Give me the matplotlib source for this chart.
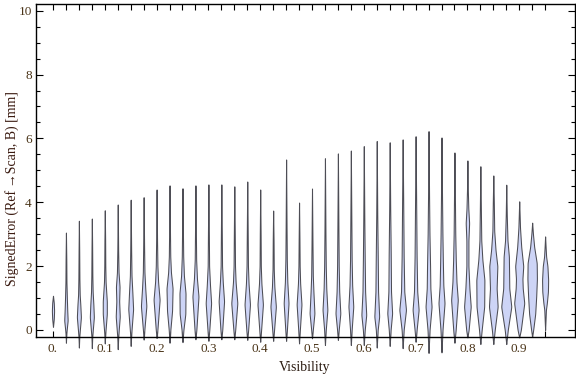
import numpy as np
import matplotlib
matplotlib.use("Agg")
import matplotlib.pyplot as plt

# violin positions (visibility bins)
visibility = [0.0, 0.025, 0.05, 0.075, 0.1, 0.125, 0.15, 0.175, 0.2, 0.225,
              0.25, 0.275, 0.3, 0.325, 0.35, 0.375, 0.4, 0.425, 0.45, 0.475,
              0.5, 0.525, 0.55, 0.575, 0.6, 0.625, 0.65, 0.675, 0.7, 0.725,
              0.75, 0.775, 0.8, 0.825, 0.85, 0.875, 0.9, 0.925, 0.95]

err_min = [0.10, -0.40, -0.55, -0.57, -0.42, -0.60, -0.50, -0.30, -0.25, -0.40,
           -0.38, -0.29, -0.34, -0.29, -0.29, -0.31, -0.37, -0.34, -0.34, -0.42,
           -0.26, -0.47, -0.31, -0.47, -0.47, -0.55, -0.50, -0.57, -0.37, -0.72,
           -0.70, -0.40, -0.23, -0.44, -0.44, -0.44, -0.23, -0.20, 0.00]

err_max = [1.07, 3.05, 3.42, 3.49, 3.75, 3.93, 4.08, 4.16, 4.40, 4.53,
           4.44, 4.53, 4.56, 4.56, 4.50, 4.65, 4.40, 3.74, 5.34, 3.99,
           4.43, 5.38, 5.53, 5.62, 5.76, 5.92, 5.88, 5.97, 6.07, 6.23,
           6.03, 5.56, 5.31, 5.13, 4.84, 4.55, 4.03, 3.36, 2.93]

# density profile of each violin: (signed error, relative density)
profiles = [
    [(0.35, 0.8), (0.6, 1.1), (0.85, 0.8)],
    [(-0.1, 0.4), (0.3, 1.7), (0.6, 1.3), (1.0, 0.9), (1.5, 0.5), (2.2, 0.35)],
    [(-0.2, 0.4), (0.4, 2.0), (0.8, 1.4), (1.1, 0.8), (1.6, 0.5), (2.5, 0.3)],
    [(-0.2, 0.4), (0.4, 2.0), (0.8, 1.5), (1.2, 0.8), (1.7, 0.5), (2.6, 0.3)],
    [(-0.1, 0.5), (0.5, 2.0), (0.9, 2.0), (1.5, 0.8), (2.0, 0.5), (2.8, 0.35)],
    [(-0.2, 0.5), (0.42, 2.0), (0.9, 1.4), (1.35, 1.8), (1.8, 0.8), (2.5, 0.4)],
    [(-0.1, 0.6), (0.65, 2.4), (1.2, 1.6), (1.7, 0.8), (2.5, 0.45)],
    [(0.0, 0.7), (0.75, 2.7), (1.3, 1.6), (1.8, 0.8), (2.6, 0.45)],
    [(0.0, 0.8), (0.95, 3.0), (1.5, 1.5), (2.0, 0.8), (2.8, 0.45)],
    [(0.0, 0.8), (0.6, 2.5), (1.3, 3.0), (1.8, 1.4), (2.3, 0.7), (3.0, 0.45)],
    [(0.0, 0.9), (0.5, 2.8), (1.15, 3.0), (1.7, 1.4), (2.3, 0.7), (3.0, 0.45)],
    [(0.0, 0.9), (1.05, 3.0), (1.6, 1.5), (2.2, 0.7), (3.0, 0.45)],
    [(0.0, 0.9), (0.84, 2.7), (1.4, 1.6), (2.0, 0.7), (3.0, 0.45)],
    [(0.0, 0.9), (0.9, 2.7), (1.5, 1.4), (2.0, 0.7), (3.0, 0.45)],
    [(0.0, 0.9), (0.84, 3.0), (1.5, 1.3), (2.0, 0.7), (3.0, 0.45)],
    [(0.0, 0.9), (0.8, 2.7), (1.45, 1.3), (2.0, 0.7), (3.0, 0.45)],
    [(0.0, 0.9), (0.8, 2.7), (1.45, 1.2), (2.0, 0.6), (3.0, 0.4)],
    [(0.0, 0.9), (0.73, 2.7), (1.35, 1.2), (1.9, 0.6), (2.8, 0.4)],
    [(0.0, 0.8), (0.84, 2.4), (1.5, 1.2), (2.2, 0.7), (3.2, 0.45)],
    [(0.0, 0.8), (0.8, 2.4), (1.45, 1.1), (2.0, 0.6), (2.8, 0.4)],
    [(0.0, 0.8), (0.52, 2.4), (1.2, 1.4), (1.7, 0.8), (2.6, 0.5)],
    [(0.0, 0.8), (0.63, 2.4), (1.3, 1.3), (2.0, 0.8), (3.0, 0.5)],
    [(0.0, 0.8), (0.52, 2.4), (1.2, 1.3), (2.0, 0.8), (3.2, 0.5)],
    [(0.0, 0.8), (0.73, 2.4), (1.4, 1.3), (2.2, 0.8), (3.4, 0.5)],
    [(0.0, 0.9), (0.47, 2.4), (1.2, 1.3), (2.2, 0.9), (3.5, 0.5)],
    [(0.0, 0.9), (0.42, 2.4), (1.2, 1.3), (2.2, 1.0), (3.6, 0.5)],
    [(0.0, 0.9), (0.52, 2.4), (1.2, 1.3), (2.4, 1.0), (3.8, 0.5)],
    [(0.0, 1.0), (0.63, 3.3), (1.2, 1.6), (2.3, 1.0), (3.8, 0.6)],
    [(0.0, 1.0), (0.63, 3.0), (1.2, 1.6), (2.3, 1.0), (3.8, 0.6)],
    [(0.0, 1.0), (0.73, 3.0), (1.3, 1.8), (2.0, 1.5), (3.0, 0.9), (4.2, 0.5)],
    [(0.0, 1.0), (0.84, 3.0), (1.4, 1.8), (2.2, 1.3), (3.0, 0.9), (4.2, 0.5)],
    [(0.0, 1.2), (0.94, 3.3), (1.5, 2.0), (2.2, 1.3), (3.0, 0.8), (4.0, 0.5)],
    [(0.0, 1.2), (0.73, 3.3), (1.3, 2.0), (2.0, 1.0), (2.8, 1.0), (3.35, 1.7), (3.8, 0.9), (4.4, 0.4)],
    [(0.0, 1.3), (0.73, 3.8), (1.57, 4.0), (2.2, 2.0), (2.8, 0.9), (3.8, 0.5)],
    [(0.0, 1.4), (0.73, 4.3), (1.3, 3.3), (2.0, 4.0), (2.5, 2.2), (3.1, 0.9), (4.0, 0.5)],
    [(0.0, 1.5), (0.73, 5.0), (1.3, 3.0), (1.8, 2.8), (2.3, 2.6), (2.8, 1.2), (3.6, 0.5)],
    [(0.0, 1.6), (0.84, 5.0), (1.3, 3.5), (1.6, 3.2), (2.0, 4.0), (2.6, 2.0), (3.2, 0.8)],
    [(0.0, 1.0), (0.5, 3.0), (1.05, 4.0), (1.6, 4.7), (2.1, 4.5), (2.6, 2.0), (3.0, 0.8)],
    [(0.3, 0.4), (0.63, 0.8), (0.84, 1.7), (1.2, 2.8), (1.57, 3.0), (2.0, 2.3), (2.3, 1.0), (2.6, 0.5)],
]

serif = ['Liberation Serif', 'DejaVu Serif']
tick_color = '#4a3418'

fig = plt.figure(figsize=(5.76, 3.77), dpi=100)
ax = fig.add_axes([36 / 576, 1 - 337 / 377, 539 / 576, 333 / 377])

width_scale = 0.00195   # x units per density unit
for x, lo, hi, prof in zip(visibility, err_min, err_max, profiles):
    ky = [lo] + [p[0] for p in prof] + [hi]
    kw = [0.0] + [p[1] for p in prof] + [0.0]
    y = np.arange(lo, hi + 0.005, 0.01)
    w = np.interp(y, ky, kw)
    win = np.hanning(17)
    win /= win.sum()
    w = np.convolve(w, win, mode='same')
    w = w * width_scale
    ax.fill_betweenx(y, x - w, x + w, facecolor='#cdd4f6', edgecolor='#4d4d55',
                     linewidth=0.75, clip_on=False, zorder=2)

ax.set_xlim(-0.0328, 1.0077)
ax.set_ylim(-0.22, 10.21)

xlabels = []
for i, v in enumerate(visibility):
    if i % 4 == 0:
        xlabels.append('0.' if v == 0 else f'{v:.1f}')
    else:
        xlabels.append('')
ax.set_xticks(visibility)
ax.set_xticklabels(xlabels)
ax.set_yticks([0, 2, 4, 6, 8, 10])
ax.set_yticks(np.arange(0, 10.01, 0.5), minor=True)

ax.tick_params(axis='both', which='both', direction='in', top=True, right=True,
               colors='black', labelcolor=tick_color, width=0.8)
ax.tick_params(axis='x', which='major', length=4.5, pad=4)
ax.tick_params(axis='y', which='major', length=5, pad=3)
ax.tick_params(axis='y', which='minor', length=3)
for lab in ax.get_xticklabels() + ax.get_yticklabels():
    lab.set_family(serif)
    lab.set_fontsize(9.5)
for s in ax.spines.values():
    s.set_linewidth(1.0)

fig.text(305 / 576, 1 - 368 / 377, 'Visibility', ha='center', va='center',
         family=serif, fontsize=10, color='#2a1a10')
fig.text(12 / 576, 1 - 189 / 377, 'SignedError (Ref\u2009\u2192Scan, B) [mm]',
         ha='center', va='center', rotation=90, family=serif, fontsize=10,
         color='#3a1a10')

fig.savefig('out.png', dpi=100)
